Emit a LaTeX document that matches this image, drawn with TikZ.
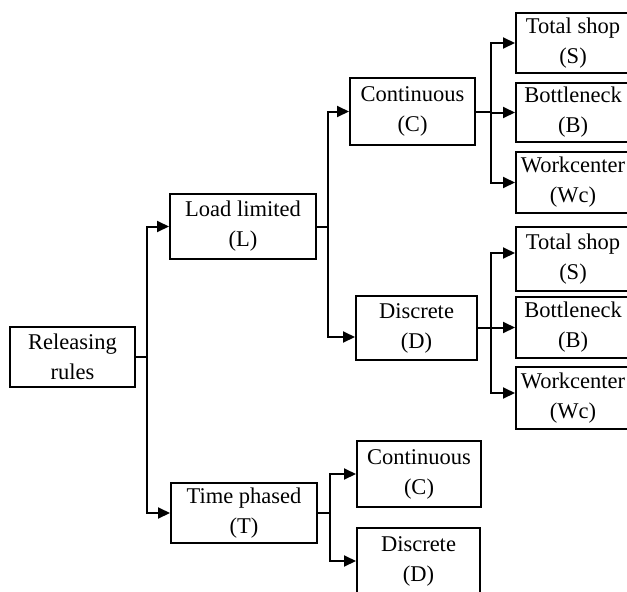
\documentclass[tikz,border=0pt]{standalone}
\usepackage{fontspec}
\setmainfont{Liberation Serif}
\usetikzlibrary{arrows.meta}
\begin{document}
\begin{tikzpicture}[x=1pt,y=-1pt,
  box/.style={draw,line width=2pt,rectangle,inner sep=0pt,align=center,font=\fontsize{22.5}{30}\selectfont},
  link/.style={line width=2pt},
  arr/.style={line width=2pt,-{Triangle[length=12pt,width=11pt]}}]
\useasboundingbox (0,0) rectangle (627,592);
\node[box,minimum width=125pt,minimum height=60pt] (R) at (72.5,357) {Releasing\\rules};
\node[box,minimum width=146pt,minimum height=65pt] (L) at (243,226.5) {Load limited\\(L)};
\node[box,minimum width=146pt,minimum height=60pt] (T) at (244,513) {Time phased\\(T)};
\node[box,minimum width=125pt,minimum height=67pt] (C1) at (412.5,111.5) {Continuous\\(C)};
\node[box,minimum width=121pt,minimum height=64pt] (D1) at (416.5,328) {Discrete\\(D)};
\node[box,minimum width=124pt,minimum height=66pt] (C2) at (419,474) {Continuous\\(C)};
\node[box,minimum width=123pt,minimum height=66pt] (D2) at (418.5,561) {Discrete\\(D)};
\node[box,minimum width=114pt,minimum height=60pt] (S1) at (573,43) {Total shop\\(S)};
\node[box,minimum width=114pt,minimum height=59pt] (B1) at (573,112.5) {Bottleneck\\(B)};
\node[box,minimum width=114pt,minimum height=61pt] (W1) at (573,182.5) {Workcenter\\(Wc)};
\node[box,minimum width=114pt,minimum height=64pt] (S2) at (573,259) {Total shop\\(S)};
\node[box,minimum width=114pt,minimum height=61pt] (B2) at (573,327.5) {Bottleneck\\(B)};
\node[box,minimum width=114pt,minimum height=62pt] (W2) at (573,398) {Workcenter\\(Wc)};
\coordinate (j0) at (147,357);
\coordinate (j1) at (328,226.5);
\coordinate (j2) at (491,111.5);
\coordinate (j3) at (491,328);
\coordinate (j4) at (330,513);
\draw[link] (R.east) -- (j0);
\draw[arr] (j0) |- (L.west);
\draw[arr] (j0) |- (T.west);
\draw[link] (L.east) -- (j1);
\draw[arr] (j1) |- (C1.west);
\draw[arr] (j1) |- ([yshift=-9pt]D1.west);
\draw[link] (C1.east) -- (j2);
\draw[arr] (j2) |- (S1.west);
\draw[arr] (j2) |- (B1.west);
\draw[arr] (j2) |- (W1.west);
\draw[link] (D1.east) -- (j3);
\draw[arr] (j3) |- ([yshift=6pt]S2.west);
\draw[arr] (j3) |- (B2.west);
\draw[arr] (j3) |- ([yshift=5pt]W2.west);
\draw[link] (T.east) -- (j4);
\draw[arr] (j4) |- (C2.west);
\draw[arr] (j4) |- (D2.west);
\end{tikzpicture}
\end{document}
